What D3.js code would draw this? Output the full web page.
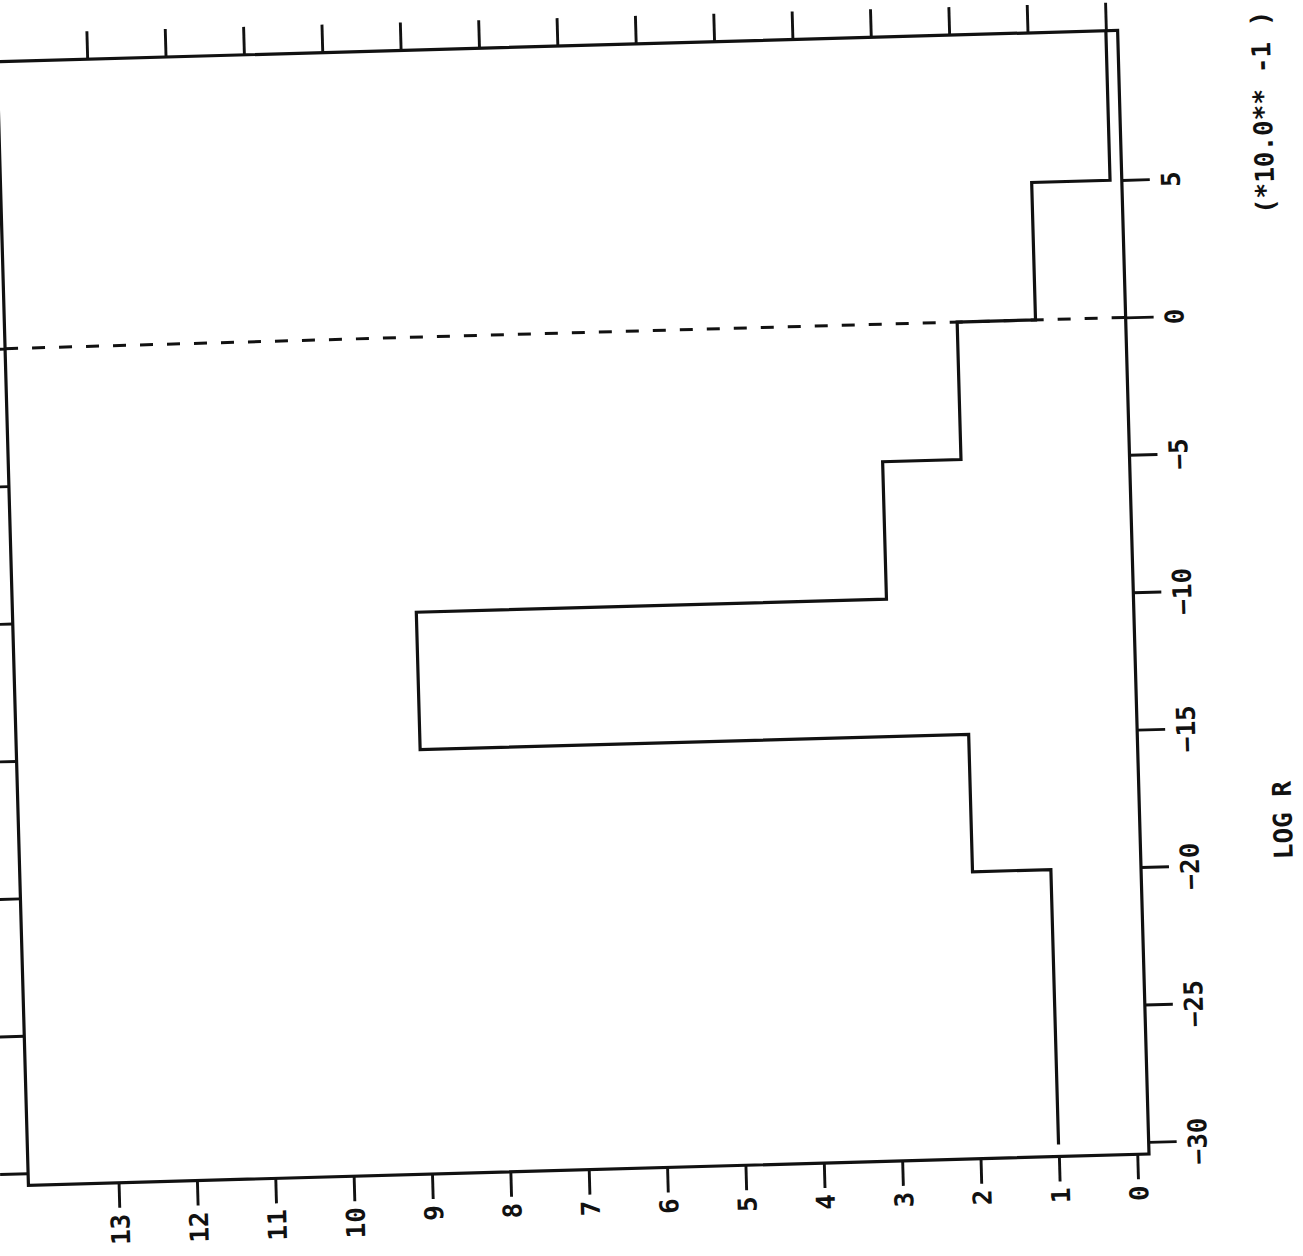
<!DOCTYPE html>
<html>
<head>
<meta charset="utf-8">
<script src="https://cdn.jsdelivr.net/npm/d3@7"></script>
<style>
  html, body { margin: 0; padding: 0; background: #ffffff; }
  svg { display: block; }
  text { font-family: "DejaVu Sans Mono", "Liberation Mono", monospace; fill: #111; font-weight: bold; }
</style>
</head>
<body>
<svg id="chart" width="1303" height="1256"></svg>
<script>
// ---- data ----
const binEdges   = [-30, -25, -20, -15, -10, -5, 0, 5, 10];   // LOG R (x10^-1)
const binCounts  = [1, 1, 2, 9, 3, 2, 1, 0];
const countTicks = [0, 1, 2, 3, 4, 5, 6, 7, 8, 9, 10, 11, 12, 13];
const logRTicks  = [-30, -25, -20, -15, -10, -5, 0, 5];
const refLogR    = [0];
const axisTitle  = "LOG R";
const scaleNote  = "(*10.0** -1 )";

// ---- layout ----
const svg = d3.select("#chart");
const frame = { left: 28, right: 1149, top: 30, bottom: 1154 };
const pivot = [frame.right, frame.bottom];
const tilt = -1.6;
const ink = "#111";
const lw = 3.2;

const root = svg.append("g")
  .attr("transform", `rotate(${tilt}, ${pivot[0]}, ${pivot[1]})`);

// Chart is drawn turned by 90 degrees: LOG R runs up the right side, counts run right-to-left.
const yPad = 0.44, xPad = 0.15;
const y = d3.scaleLinear()
  .domain([d3.min(binEdges) - yPad, d3.max(binEdges) + yPad])
  .range([frame.bottom, frame.top]);
const x = d3.scaleLinear()
  .domain([-xPad, 14 + xPad])
  .range([frame.right, frame.left]);

const tickLen = 28;

const gR = root.append("g").attr("transform", `translate(${frame.right},0)`)
  .call(d3.axisRight(y).tickValues(logRTicks).tickSize(tickLen).tickSizeOuter(0).tickFormat(d3.format("d")));
const gB = root.append("g").attr("transform", `translate(0,${frame.bottom})`)
  .call(d3.axisBottom(x).tickValues(countTicks).tickSize(tickLen - 3).tickSizeOuter(0).tickFormat(d3.format("d")));
const gL = root.append("g").attr("transform", `translate(${frame.left},0)`)
  .call(d3.axisLeft(y).tickValues(logRTicks).tickSize(tickLen).tickSizeOuter(0).tickFormat(""));
const gT = root.append("g").attr("transform", `translate(0,${frame.top})`)
  .call(d3.axisTop(x).tickValues(countTicks).tickSize(tickLen).tickSizeOuter(0).tickFormat(""));

[gR, gB, gL, gT].forEach(g => {
  g.select(".domain").remove();
  g.selectAll(".tick line").attr("stroke", ink).attr("stroke-width", lw - 0.3);
});

gR.selectAll(".tick text")
  .attr("x", 0).attr("y", 0).attr("dy", null)
  .attr("text-anchor", "middle")
  .attr("transform", "translate(58,0) rotate(-90)")
  .attr("font-size", 26)
  .style("font-family", '"DejaVu Sans Mono", monospace')
  .style("font-weight", "bold")
  .attr("fill", ink);

gB.selectAll(".tick text")
  .attr("x", 0).attr("y", 0).attr("dy", null)
  .attr("text-anchor", "end")
  .attr("transform", "translate(9.5,31) rotate(-90)")
  .attr("font-size", 26)
  .style("font-family", '"DejaVu Sans Mono", monospace')
  .style("font-weight", "bold")
  .attr("fill", ink);

// frame
root.append("rect")
  .attr("x", frame.left).attr("y", frame.top)
  .attr("width", frame.right - frame.left).attr("height", frame.bottom - frame.top)
  .attr("fill", "none").attr("stroke", ink).attr("stroke-width", lw);

// dashed reference line at LOG R = 0
root.selectAll("line.ref").data(refLogR).join("line")
  .attr("class", "ref")
  .attr("x1", frame.left).attr("x2", frame.right)
  .attr("y1", d => y(d)).attr("y2", d => y(d))
  .attr("stroke", ink).attr("stroke-width", lw - 0.2)
  .attr("stroke-dasharray", "13,14");

// histogram step outline
const pts = [];
binCounts.forEach((c, i) => {
  const top = (i === binCounts.length - 1) ? y.domain()[1] : binEdges[i + 1];
  pts.push([binEdges[i], c]);
  pts.push([top, c]);
});
root.append("path")
  .datum(pts)
  .attr("d", d3.line().x(d => x(d[1])).y(d => y(d[0])))
  .attr("fill", "none").attr("stroke", ink).attr("stroke-width", lw)
  .attr("stroke-linejoin", "miter");

// axis title and scale note (rotated)
root.append("text")
  .attr("transform", `translate(1301,${824}) rotate(-90)`)
  .attr("text-anchor", "middle")
  .attr("font-size", 26)
  .text(axisTitle);
root.append("text")
  .attr("transform", `translate(1301,${116}) rotate(-90)`)
  .attr("text-anchor", "middle")
  .attr("font-size", 26)
  .attr("xml:space", "preserve")
  .style("white-space", "pre")
  .text(scaleNote);
</script>
</body>
</html>
